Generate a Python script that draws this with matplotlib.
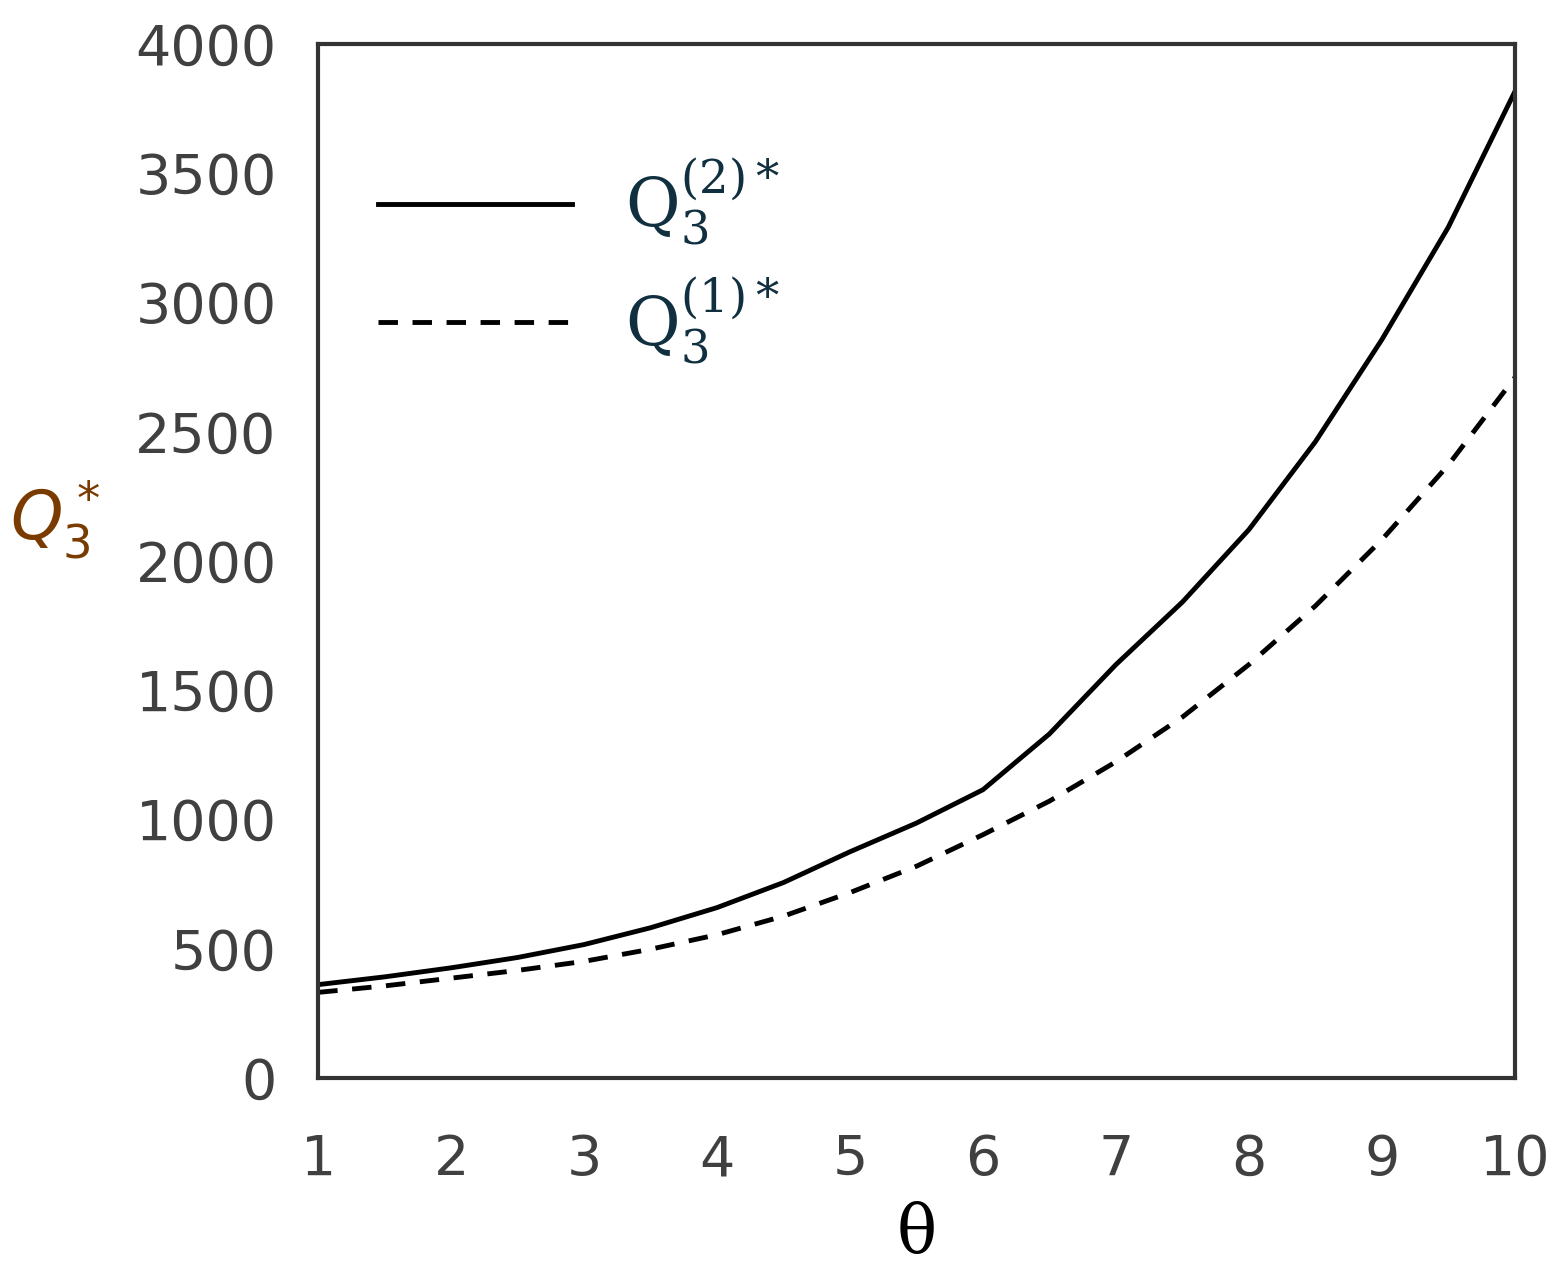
import matplotlib.pyplot as plt

theta = [1, 1.5, 2, 2.5, 3, 3.5, 4, 4.5, 5, 5.5, 6, 6.5, 7, 7.5, 8, 8.5, 9, 9.5, 10]
q_two = [360, 390, 425, 465, 515, 580, 658, 755, 874, 985, 1114, 1330, 1598, 1840,
         2120, 2460, 2855, 3290, 3814]
q_one = [330, 355, 385, 415, 450, 497, 553, 625, 716, 818, 940, 1070, 1222, 1395,
         1598, 1825, 2081, 2370, 2708]
x_ticks = [1, 2, 3, 4, 5, 6, 7, 8, 9, 10]

fig = plt.figure(figsize=(15.6, 12.86), dpi=100)
ax = fig.add_axes([0.204, 0.162, 0.767, 0.804])

ax.plot(theta, q_two, color='black', lw=3.5, label=r'$\mathrm{Q}_3^{(2)*}$')
ax.plot(theta, q_one, color='black', lw=3.5, ls=(0, (4, 3)), label=r'$\mathrm{Q}_3^{(1)*}$')

ax.set_xlim(1, 10)
ax.set_ylim(0, 4000)
ax.set_xticks(x_ticks)
ax.set_yticks(range(0, 4001, 500))
ax.tick_params(length=0, labelsize=40, labelcolor='#404040')
ax.tick_params(axis='x', pad=40)
ax.tick_params(axis='y', pad=30)
for s in ax.spines.values():
    s.set_linewidth(3)
    s.set_color('#333333')

ax.set_xlabel('θ', fontsize=48, labelpad=10, family='DejaVu Serif')
ax.set_ylabel(r'$Q_3^*$', fontsize=48, rotation=0, color='#7a3b00')
ax.yaxis.set_label_coords(-0.22, 0.5)

plt.rcParams['mathtext.fontset'] = 'dejavuserif'
leg = ax.legend(loc='upper left', fontsize=48, frameon=False, handlelength=2.9,
                labelspacing=0.4, bbox_to_anchor=(0.0, 0.95))
for t in leg.get_texts():
    t.set_color('#103040')

fig.savefig('out.png')
